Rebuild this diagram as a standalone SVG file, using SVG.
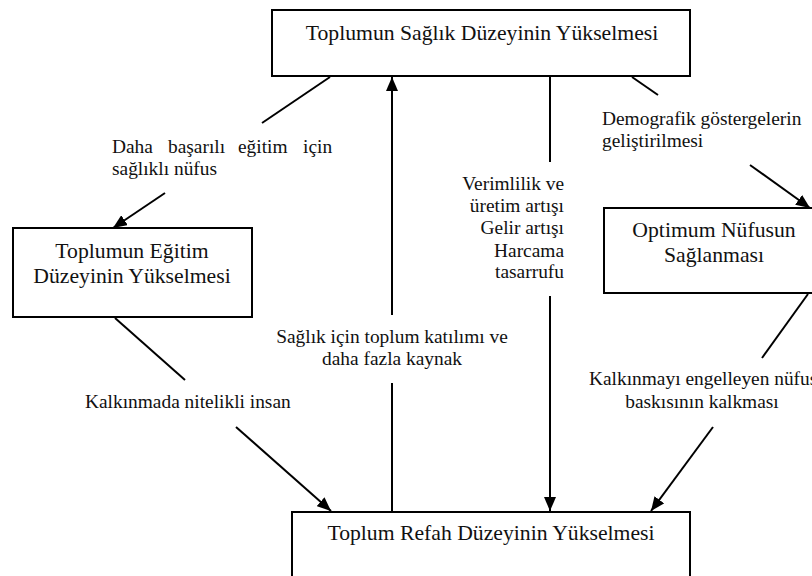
<svg xmlns="http://www.w3.org/2000/svg" width="812" height="576" viewBox="0 0 812 576">
<style>
.box{fill:#fff;stroke:#000;stroke-width:2}
.nt{font-family:"Liberation Serif","Times New Roman",serif;font-size:21.7px;fill:#111;text-anchor:middle}
.lt{font-family:"Liberation Serif","Times New Roman",serif;font-size:19.4px;fill:#111}
.ln{stroke:#000;stroke-width:2;fill:none}
.ar{stroke:#000;stroke-width:2;fill:none;marker-end:url(#ah)}
</style>
<defs>
<marker id="ah" markerUnits="userSpaceOnUse" markerWidth="14" markerHeight="12" refX="14" refY="6" orient="auto">
<path d="M0,0 L14,6 L0,12 z" fill="#000"/>
</marker>
</defs>
<rect width="812" height="576" fill="#fff"/>
<g id="connectors">
<line class="ln" x1="330" y1="77" x2="262" y2="123"/>
<line class="ar" x1="165" y1="193" x2="113" y2="228"/>
<line class="ln" x1="392" y1="512" x2="392" y2="383"/>
<line class="ar" x1="392" y1="315" x2="392" y2="77"/>
<line class="ln" x1="550" y1="77" x2="550" y2="162"/>
<line class="ar" x1="550" y1="296" x2="550" y2="511"/>
<line class="ln" x1="632" y1="77" x2="658" y2="95"/>
<line class="ar" x1="750" y1="165" x2="810" y2="208"/>
<line class="ln" x1="808" y1="294" x2="762" y2="358"/>
<line class="ar" x1="713" y1="427" x2="651" y2="511"/>
<line class="ln" x1="115" y1="318" x2="185" y2="380"/>
<line class="ar" x1="236" y1="427" x2="331" y2="511"/>
</g>
<g id="labels">
<text class="lt"><tspan x="112" y="153">Daha</tspan><tspan x="168" y="153">başarılı</tspan><tspan x="238" y="153">eğitim</tspan><tspan x="303" y="153">için</tspan><tspan x="112" y="175">sağlıklı nüfus</tspan></text>
<text class="lt" text-anchor="middle"><tspan x="392" y="343">Sağlık için toplum katılımı ve</tspan><tspan x="392" y="365">daha fazla kaynak</tspan></text>
<text class="lt" text-anchor="end"><tspan x="564" y="190">Verimlilik ve</tspan><tspan x="564" y="212">üretim artışı</tspan><tspan x="564" y="234">Gelir artışı</tspan><tspan x="564" y="257">Harcama</tspan><tspan x="564" y="278">tasarrufu</tspan></text>
<text class="lt"><tspan x="602" y="125">Demografik göstergelerin</tspan><tspan x="602" y="147">geliştirilmesi</tspan></text>
<text class="lt"><tspan x="589" y="385">Kalkınmayı engelleyen nüfus</tspan><tspan x="702" y="408" text-anchor="middle">baskısının kalkması</tspan></text>
<text class="lt" x="85" y="408">Kalkınmada nitelikli insan</text>
</g>
<g id="node-saglik">
<rect class="box" x="272" y="10" width="418" height="66"/>
<text class="nt" x="482" y="40">Toplumun Sağlık Düzeyinin Yükselmesi</text>
</g>
<g id="node-egitim">
<rect class="box" x="13" y="228" width="239" height="89"/>
<text class="nt"><tspan x="132" y="258">Toplumun Eğitim</tspan><tspan x="132" y="283">Düzeyinin Yükselmesi</tspan></text>
</g>
<g id="node-nufus">
<rect class="box" x="604" y="208" width="218" height="85"/>
<text class="nt"><tspan x="714" y="237">Optimum Nüfusun</tspan><tspan x="714" y="262">Sağlanması</tspan></text>
</g>
<g id="node-refah">
<rect class="box" x="292" y="512" width="398" height="80"/>
<text class="nt" x="491" y="540">Toplum Refah Düzeyinin Yükselmesi</text>
</g>
</svg>
